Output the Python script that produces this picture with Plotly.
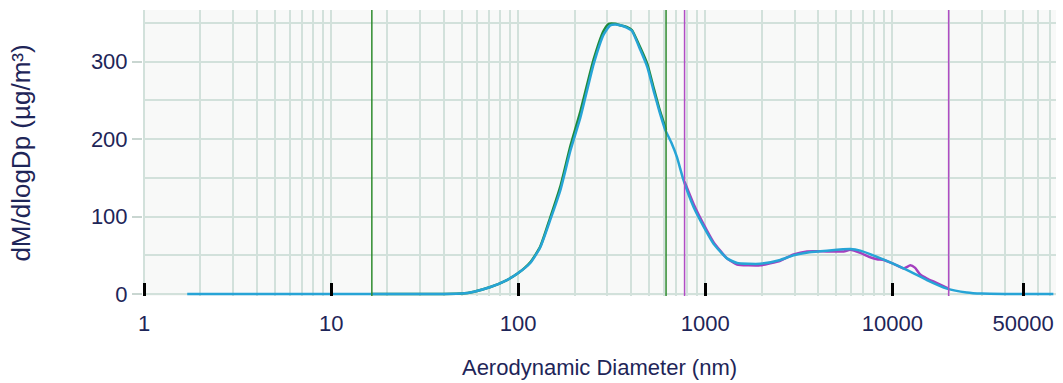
import plotly.graph_objects as go

# ---- data ----
cyan_d = [1.7, 3, 5, 10, 20, 30, 40, 50, 58, 71, 87, 100, 116, 131, 148, 168, 190, 215, 253, 286,
          310, 330, 351, 380, 405, 450, 490, 530, 570, 611, 660, 705, 765, 867, 980, 1107, 1306, 1479,
          1700, 1968, 2518, 2966, 3600, 4477, 5958, 6742, 8280, 10160, 12480, 15310, 19590, 25000,
          30000, 40000, 72600]
cyan_v = [0, 0, 0, 0, 0, 0, 0, 0.5, 3, 9, 18, 27, 40, 60, 95, 134, 185, 228, 297, 335,
          347, 348, 347, 344, 340, 315, 293, 262, 235, 212, 195, 177, 147, 112, 87, 65, 46, 40,
          39, 39, 44, 50, 54, 56, 58, 56, 48, 39, 29, 18, 7, 2,
          0.5, 0, 0]

green_d = [16.5, 30, 40, 50, 58, 71, 87, 100, 116, 131, 148, 168, 190, 215, 253, 286, 305, 330,
           351, 380, 405, 450, 490, 530, 570, 617]
green_v = [0, 0, 0, 0.5, 3, 9, 18, 27, 41, 61, 98, 139, 191, 236, 303, 340, 349, 349,
           347, 345, 341, 318, 297, 266, 238, 212]

magenta_d = [775, 867, 980, 1107, 1306, 1479, 1700, 1968, 2518, 2966, 3500, 4477, 5500, 5958,
             6742, 7500, 8280, 9000, 10160, 11500, 12480, 13200, 14000, 15310, 17000, 20000]
magenta_v = [145, 116, 90, 67, 46, 38, 37, 37, 43, 51, 55, 55, 55, 57,
             53, 48, 45, 44, 39, 33, 37, 34, 26, 20, 15, 7]

green_cuts = [16.5, 617]
magenta_cuts = [775, 20000]

x_label_vals = [1, 10, 100, 1000, 10000, 50000]
x_label_text = ["1", "10", "100", "1000", "10000", "50000"]
x_grid_vals = [k * 10 ** e for e in range(0, 5) for k in range(1, 10)]
y_label_vals = [0, 100, 200, 300]

CYAN = "#27a4d6"
GREEN = "#1f8a3a"
MAGENTA = "#a43fbf"
GRID = "#d2e1db"
TXT = "#1e2558"
FONT = "Liberation Sans, Arial, sans-serif"

fig = go.Figure()
line_shape = dict(shape="spline", smoothing=0.5)
fig.add_trace(go.Scatter(x=green_d, y=green_v, mode="lines",
                         line=dict(color=GREEN, width=2.5, **line_shape), hoverinfo="skip"))
fig.add_trace(go.Scatter(x=magenta_d, y=magenta_v, mode="lines",
                         line=dict(color=MAGENTA, width=2.5, **line_shape), hoverinfo="skip"))
fig.add_trace(go.Scatter(x=cyan_d, y=cyan_v, mode="lines",
                         line=dict(color=CYAN, width=2.5, **line_shape), hoverinfo="skip"))

for c in green_cuts:
    fig.add_vline(x=c, line=dict(color="#2e8b2e", width=1.5), layer="above")
for c in magenta_cuts:
    fig.add_vline(x=c, line=dict(color="#b04cc4", width=1.5), layer="above")

fig.update_layout(
    width=1063, height=383,
    margin=dict(l=143, r=7, t=10, b=87),
    paper_bgcolor="white",
    plot_bgcolor="#f8f9f8",
    showlegend=False,
    font=dict(family=FONT, color=TXT, size=20),
)

fig.update_xaxes(
    type="log",
    range=[-0.006, 4.875],
    automargin=False,
    tickvals=x_label_vals,
    ticktext=x_label_text,
    ticks="inside",
    ticklen=13,
    tickwidth=2.5,
    tickcolor="black",
    showgrid=False,
    zeroline=False,
    showline=False,
    tickfont=dict(size=22, color=TXT),
    ticklabelstandoff=12,
    minor=dict(tickvals=x_grid_vals, showgrid=True, gridcolor=GRID, gridwidth=2, ticks=""),
    title=dict(text="Aerodynamic Diameter (nm)", font=dict(size=22, color=TXT), standoff=24),
)

fig.update_yaxes(
    range=[-2.6, 366.8],
    automargin=False,
    tickvals=y_label_vals,
    ticks="outside",
    ticklen=10,
    tickwidth=2,
    tickcolor="#c9d6d1",
    showgrid=True,
    gridcolor=GRID,
    gridwidth=2,
    minor=dict(dtick=50, showgrid=True, gridcolor=GRID, gridwidth=2, ticks=""),
    zeroline=False,
    showline=False,
    tickfont=dict(size=22, color=TXT),
    title=dict(text="dM/dlogDp (µg/m³)", font=dict(size=26, color=TXT), standoff=52),
)

fig.write_html("out.html",
               config={"displayModeBar": False},
               post_script="document.body.style.margin='0';document.body.style.overflow='hidden';")
